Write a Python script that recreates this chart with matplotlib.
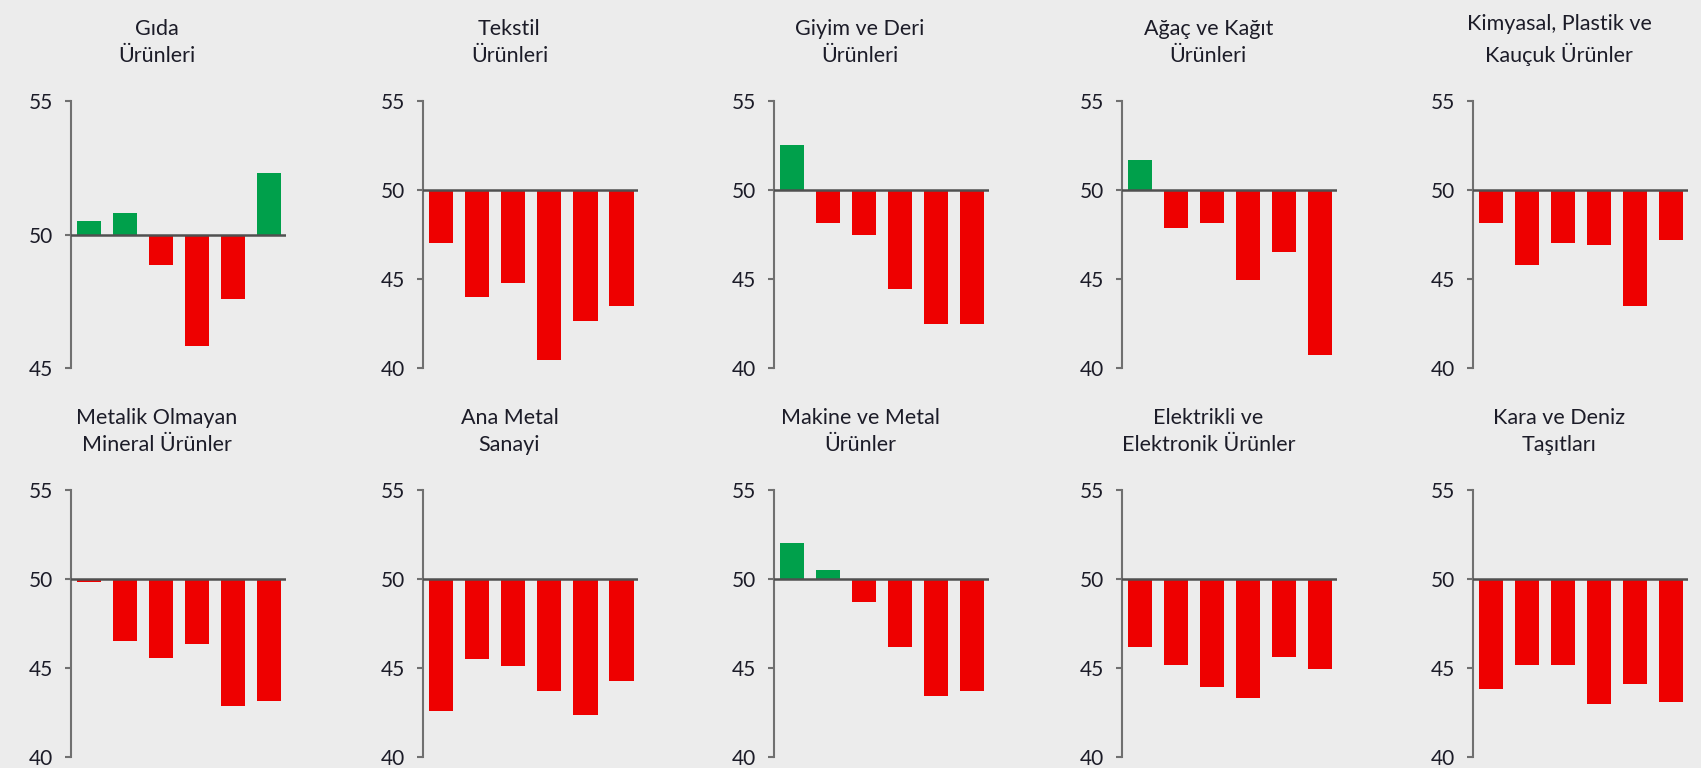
import numpy as np
import matplotlib
matplotlib.use("Agg")
import matplotlib.pyplot as plt

# degerler (50 esik seviyesi)
titles = ["Gıda\nÜrünleri", "Tekstil\nÜrünleri", "Giyim ve Deri\nÜrünleri",
          "Ağaç ve Kağıt\nÜrünleri", "Kimyasal, Plastik ve\nKauçuk Ürünler",
          "Metalik Olmayan\nMineral Ürünler", "Ana Metal\nSanayi",
          "Makine ve Metal\nÜrünler", "Elektrikli ve\nElektronik Ürünler",
          "Kara ve Deniz\nTaşıtları"]

gida = [50.5, 50.8, 48.85, 45.85, 47.6, 52.3]
tekstil = [47.05, 44.0, 44.8, 40.45, 42.65, 43.5]
giyim = [52.5, 48.15, 47.45, 44.45, 42.5, 42.5]
agac = [51.7, 47.85, 48.15, 44.95, 46.5, 40.75]
kimya = [48.15, 45.8, 47.05, 46.9, 43.5, 47.2]
metalik = [49.8, 46.5, 45.55, 46.35, 42.9, 43.15]
ana_metal = [42.6, 45.5, 45.1, 43.7, 42.35, 44.25]
makine = [52.0, 50.5, 48.7, 46.2, 43.45, 43.7]
elektrik = [46.2, 45.2, 43.95, 43.3, 45.65, 44.95]
kara = [43.85, 45.2, 45.2, 43.0, 44.1, 43.1]

series = [gida, tekstil, giyim, agac, kimya, metalik, ana_metal, makine, elektrik, kara]
ymins = [45, 40, 40, 40, 40, 40, 40, 40, 40, 40]

green = "#00a04b"
red = "#ee0000"
bg = "#ececec"
txt = "#1c1c28"

plt.rcParams['font.family'] = ['Lato', 'DejaVu Sans']

fig = plt.figure(figsize=(17.01, 7.68), dpi=100, facecolor=bg)

lefts = [0.0416, 0.2489, 0.4550, 0.6598, 0.8661]
bottoms = [0.5204, 0.0139]
w = 0.1264
h = 0.3485

for i, vals in enumerate(series):
    r, c = divmod(i, 5)
    ax = fig.add_axes([lefts[c], bottoms[r], w, h])
    ax.set_facecolor(bg)
    x = np.arange(len(vals))
    v = np.array(vals)
    cols = [green if a > 50 else red for a in v]
    ax.bar(x, v - 50, bottom=50, width=0.67, color=cols)
    ax.axhline(50, color="#505050", lw=1.8, zorder=3)
    ax.set_xlim(-0.5, 5.47)
    ax.set_ylim(ymins[i], 55)
    ax.set_yticks(np.arange(ymins[i], 56, 5))
    ax.set_xticks([])
    for s in ["top", "right", "bottom"]:
        ax.spines[s].set_visible(False)
    ax.spines["left"].set_color("#707070")
    ax.spines["left"].set_linewidth(1.5)
    ax.tick_params(axis="y", length=4, width=1.5, color="#707070",
                   labelsize=15, labelcolor=txt, pad=9)
    ax.set_title(titles[i], x=0.40, pad=28, fontsize=15.5,
                 color=txt, linespacing=1.45)

fig.savefig("out.png", dpi=100, facecolor=bg)
